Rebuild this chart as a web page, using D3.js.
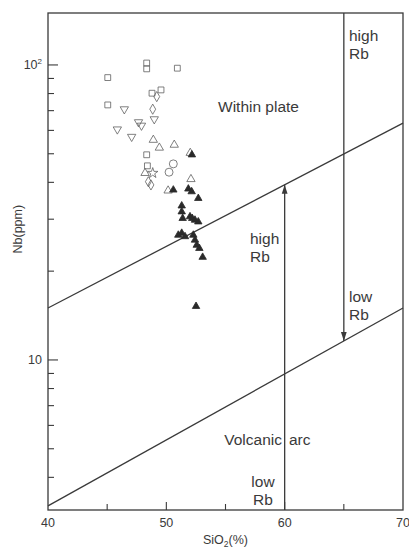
<!DOCTYPE html>
<html>
<head>
<meta charset="utf-8">
<script src="https://cdn.jsdelivr.net/npm/d3@7"></script>
<style>
  html, body { margin: 0; padding: 0; background: #fff; }
  svg { display: block; font-family: "Liberation Sans", Arial, sans-serif; }
</style>
</head>
<body>
<svg id="chart" width="409" height="547"></svg>
<script>
// Axis limits and ticks
const xDomain = [40, 70];
const yDomain = [3.1, 150];
const xTickLabels = [40, 50, 60, 70];
const xTicksMinor = [45, 55, 65];
const xTicksMajor = [50, 60];
const yTicksMajor = [10, 100];
const yTicksMinor = [4, 5, 6, 7, 8, 9, 20, 30, 40, 50, 60, 70, 80, 90];

// Field boundaries (SiO2, Nb)
const upperBoundary = [[40, 15], [70, 63.5]];
const lowerBoundary = [[40, 3.2], [70, 15]];
const highRbSiO2 = 60;   // arrow up to the upper boundary
const lowRbSiO2 = 65;    // arrow down to the lower boundary

// Samples (SiO2 %, Nb ppm)
const squares = [[45.05, 90.6], [45.05, 73.2], [48.34, 101.5], [48.34, 97.0], [50.93, 97.5],
  [48.79, 80.2], [49.55, 82.3], [48.34, 49.6], [48.40, 45.5]];
const downTriangles = [[46.45, 70.8], [48.98, 65.5], [47.65, 64.0], [47.90, 62.3], [45.86, 60.5], [47.07, 57.1]];
const diamonds = [[49.19, 78.1], [48.85, 70.8], [48.48, 40.2], [48.70, 39.2]];
const upTriangles = [[48.90, 55.7], [49.41, 52.4], [50.67, 53.6], [48.20, 43.0], [52.08, 41.0], [50.15, 37.5], [52.02, 50.3]];
const circles = [[50.59, 46.2], [50.23, 43.3]];
const stars = [[48.85, 43.0]];
const filledTriangles = [[52.16, 49.6], [50.59, 37.7], [51.86, 38.0], [52.14, 37.2], [52.70, 35.3],
  [51.30, 33.3], [51.30, 31.8], [51.38, 30.2], [52.00, 30.6], [52.19, 30.2], [52.42, 29.8], [52.70, 29.4],
  [51.01, 26.5], [51.30, 26.9], [51.58, 26.2], [52.28, 26.5], [52.42, 25.5], [52.57, 24.5], [52.79, 23.9],
  [53.07, 22.3], [52.51, 15.2]];

const svg = d3.select("#chart");
const ink = "#3a3a3a";
const symInk = "#606060";

const x = d3.scaleLinear().domain(xDomain).range([48, 403]);
const y = d3.scaleLog().domain(yDomain).range([510, 13]);

// Log-linear interpolation along a boundary line
function boundaryAt(line, sx) {
  const t = (sx - line[0][0]) / (line[1][0] - line[0][0]);
  return Math.pow(10, Math.log10(line[0][1]) + t * (Math.log10(line[1][1]) - Math.log10(line[0][1])));
}

const defs = svg.append("defs");
defs.append("marker").attr("id", "arrow")
  .attr("viewBox", "0 0 10 10").attr("refX", 10).attr("refY", 5)
  .attr("markerWidth", 9).attr("markerHeight", 9).attr("markerUnits", "userSpaceOnUse")
  .attr("orient", "auto")
  .append("path").attr("d", "M0,1.8 L10,5 L0,8.2 Z").attr("fill", ink);

// Frame
svg.append("rect")
  .attr("x", x(xDomain[0])).attr("y", y(yDomain[1]))
  .attr("width", x(xDomain[1]) - x(xDomain[0]))
  .attr("height", y(yDomain[0]) - y(yDomain[1]))
  .attr("fill", "none").attr("stroke", ink).attr("stroke-width", 1.3);

// Inward ticks
const x0 = x(xDomain[0]), yb = y(yDomain[0]);
svg.append("g").selectAll("line").data(yTicksMajor).join("line")
  .attr("x1", x0).attr("x2", x0 + 10).attr("y1", d => y(d)).attr("y2", d => y(d))
  .attr("stroke", ink).attr("stroke-width", 1.1);
svg.append("g").selectAll("line").data(yTicksMinor).join("line")
  .attr("x1", x0).attr("x2", x0 + 6).attr("y1", d => y(d)).attr("y2", d => y(d))
  .attr("stroke", ink).attr("stroke-width", 1.1);
svg.append("g").selectAll("line").data(xTicksMajor).join("line")
  .attr("x1", d => x(d)).attr("x2", d => x(d)).attr("y1", yb).attr("y2", yb - 8)
  .attr("stroke", ink).attr("stroke-width", 1.1);
svg.append("g").selectAll("line").data(xTicksMinor).join("line")
  .attr("x1", d => x(d)).attr("x2", d => x(d)).attr("y1", yb).attr("y2", yb - 6)
  .attr("stroke", ink).attr("stroke-width", 1.1);

// Tick labels
svg.append("g").selectAll("text").data(xTickLabels).join("text")
  .attr("x", d => x(d)).attr("y", yb + 17).attr("text-anchor", "middle")
  .attr("font-size", 12.5).attr("fill", ink).text(d => d);
svg.append("text").attr("x", x0 - 6).attr("y", y(10) + 4.5).attr("text-anchor", "end")
  .attr("font-size", 12.5).attr("fill", ink).text("10");
const t100 = svg.append("text").attr("x", x0 - 6).attr("y", y(100) + 4.5).attr("text-anchor", "end")
  .attr("font-size", 12.5).attr("fill", ink);
t100.append("tspan").text("10");
t100.append("tspan").attr("font-size", 8).attr("dy", -5).text("2");

// Axis titles
const xt = svg.append("text").attr("x", (x(40) + x(70)) / 2).attr("y", 544)
  .attr("text-anchor", "middle").attr("font-size", 12.5).attr("fill", ink);
xt.append("tspan").text("SiO");
xt.append("tspan").attr("font-size", 8.5).attr("dy", 2.5).text("2");
xt.append("tspan").attr("dy", -2.5).text("(%)");
svg.append("text").attr("transform", `translate(22,${y(30) + 10}) rotate(-90)`)
  .attr("text-anchor", "middle").attr("font-size", 12.5).attr("fill", ink).text("Nb(ppm)");

// Boundaries
const lineGen = d3.line().x(d => x(d[0])).y(d => y(d[1]));
[upperBoundary, lowerBoundary].forEach(b => {
  svg.append("path").attr("d", lineGen(b)).attr("fill", "none")
    .attr("stroke", ink).attr("stroke-width", 1.3);
});
svg.append("line")
  .attr("x1", x(highRbSiO2)).attr("x2", x(highRbSiO2))
  .attr("y1", yb).attr("y2", y(boundaryAt(upperBoundary, highRbSiO2)))
  .attr("stroke", ink).attr("stroke-width", 1.3).attr("marker-end", "url(#arrow)");
svg.append("line")
  .attr("x1", x(lowRbSiO2)).attr("x2", x(lowRbSiO2))
  .attr("y1", y(yDomain[1])).attr("y2", y(boundaryAt(lowerBoundary, lowRbSiO2)))
  .attr("stroke", ink).attr("stroke-width", 1.3).attr("marker-end", "url(#arrow)");

// Field labels
const labels = [
  { t: "high", x: 349, y: 41, a: "start" }, { t: "Rb", x: 349, y: 59, a: "start" },
  { t: "Within plate", x: 218, y: 112, a: "start" },
  { t: "high", x: 250, y: 244, a: "start" }, { t: "Rb", x: 250, y: 262, a: "start" },
  { t: "low", x: 349, y: 302, a: "start" }, { t: "Rb", x: 349, y: 320, a: "start" },
  { t: "Volcanic", x: 282, y: 445, a: "end" }, { t: "arc", x: 289, y: 445, a: "start" },
  { t: "low", x: 263, y: 487, a: "middle" }, { t: "Rb", x: 263, y: 505, a: "middle" }
];
svg.append("g").selectAll("text").data(labels).join("text")
  .attr("x", d => d.x).attr("y", d => d.y).attr("text-anchor", d => d.a)
  .attr("font-size", 15.5).attr("fill", ink).text(d => d.t);

// Sample symbols
function plot(data, type, size, opts) {
  svg.append("g").selectAll("path").data(data).join("path")
    .attr("d", d3.symbol().type(type).size(size))
    .attr("transform", d => `translate(${x(d[0])},${y(d[1])})${opts.rotate ? " rotate(180)" : ""}`)
    .attr("fill", opts.fill || "none")
    .attr("stroke", opts.stroke || symInk)
    .attr("stroke-width", 0.8);
}
plot(squares, d3.symbolSquare, 34, {});
plot(downTriangles, d3.symbolTriangle, 30, { rotate: true });
plot(diamonds, d3.symbolDiamond, 30, {});
plot(upTriangles, d3.symbolTriangle, 30, {});
plot(circles, d3.symbolCircle, 50, {});
plot(stars, d3.symbolStar, 34, {});
plot(filledTriangles, d3.symbolTriangle, 24, { fill: "#2a2a2a", stroke: "#2a2a2a" });
</script>
</body>
</html>
